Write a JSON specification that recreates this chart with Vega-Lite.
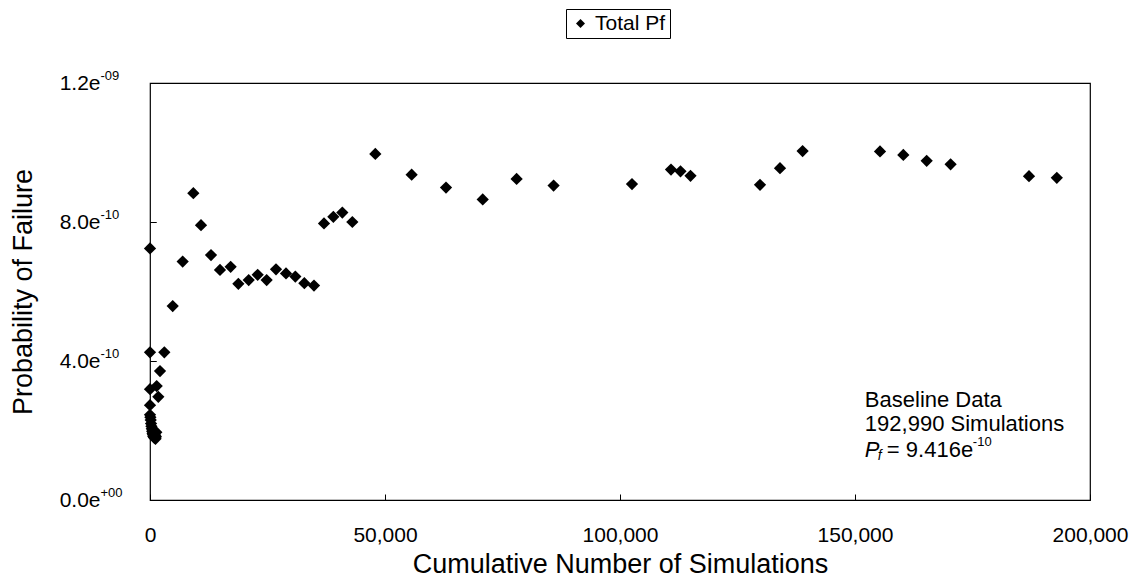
{
  "$schema": "https://vega.github.io/schema/vega-lite/v6.json",
  "width": 940,
  "height": 417,
  "autosize": "none",
  "padding": {"left": 150, "top": 83, "right": 45, "bottom": 88},
  "background": "white",
  "config": {
    "font": "Liberation Sans",
    "view": {"stroke": "black", "strokeWidth": 1.2},
    "axis": {"domain": false, "grid": false, "labelColor": "black", "titleColor": "black", "labelFont": "Liberation Sans", "titleFont": "Liberation Sans", "titleFontWeight": "normal", "tickColor": "black"}
  },
  "resolve": {"axis": {"y": "independent"}},
  "datasets": {
    "pts": [
      {"sims": 0, "pf": 7.24e-10, "series": "Total Pf"},
      {"sims": 0, "pf": 4.25e-10, "series": "Total Pf"},
      {"sims": 0, "pf": 3.19e-10, "series": "Total Pf"},
      {"sims": 0, "pf": 2.73e-10, "series": "Total Pf"},
      {"sims": 0, "pf": 2.45e-10, "series": "Total Pf"},
      {"sims": 80, "pf": 2.38e-10, "series": "Total Pf"},
      {"sims": 150, "pf": 2.3e-10, "series": "Total Pf"},
      {"sims": 220, "pf": 2.2e-10, "series": "Total Pf"},
      {"sims": 300, "pf": 2.12e-10, "series": "Total Pf"},
      {"sims": 380, "pf": 2.05e-10, "series": "Total Pf"},
      {"sims": 460, "pf": 1.98e-10, "series": "Total Pf"},
      {"sims": 540, "pf": 1.92e-10, "series": "Total Pf"},
      {"sims": 620, "pf": 1.88e-10, "series": "Total Pf"},
      {"sims": 700, "pf": 1.83e-10, "series": "Total Pf"},
      {"sims": 780, "pf": 1.95e-10, "series": "Total Pf"},
      {"sims": 860, "pf": 1.8e-10, "series": "Total Pf"},
      {"sims": 940, "pf": 1.9e-10, "series": "Total Pf"},
      {"sims": 1020, "pf": 1.78e-10, "series": "Total Pf"},
      {"sims": 1100, "pf": 1.86e-10, "series": "Total Pf"},
      {"sims": 1180, "pf": 1.76e-10, "series": "Total Pf"},
      {"sims": 1260, "pf": 1.82e-10, "series": "Total Pf"},
      {"sims": 1340, "pf": 1.95e-10, "series": "Total Pf"},
      {"sims": 1420, "pf": 3.28e-10, "series": "Total Pf"},
      {"sims": 1770, "pf": 2.97e-10, "series": "Total Pf"},
      {"sims": 2130, "pf": 3.71e-10, "series": "Total Pf"},
      {"sims": 3050, "pf": 4.25e-10, "series": "Total Pf"},
      {"sims": 4830, "pf": 5.58e-10, "series": "Total Pf"},
      {"sims": 6950, "pf": 6.86e-10, "series": "Total Pf"},
      {"sims": 9220, "pf": 8.83e-10, "series": "Total Pf"},
      {"sims": 10850, "pf": 7.91e-10, "series": "Total Pf"},
      {"sims": 12980, "pf": 7.05e-10, "series": "Total Pf"},
      {"sims": 14890, "pf": 6.62e-10, "series": "Total Pf"},
      {"sims": 17160, "pf": 6.71e-10, "series": "Total Pf"},
      {"sims": 18800, "pf": 6.22e-10, "series": "Total Pf"},
      {"sims": 21000, "pf": 6.33e-10, "series": "Total Pf"},
      {"sims": 22910, "pf": 6.48e-10, "series": "Total Pf"},
      {"sims": 24820, "pf": 6.33e-10, "series": "Total Pf"},
      {"sims": 26810, "pf": 6.64e-10, "series": "Total Pf"},
      {"sims": 28940, "pf": 6.52e-10, "series": "Total Pf"},
      {"sims": 30920, "pf": 6.43e-10, "series": "Total Pf"},
      {"sims": 32840, "pf": 6.24e-10, "series": "Total Pf"},
      {"sims": 34890, "pf": 6.17e-10, "series": "Total Pf"},
      {"sims": 37020, "pf": 7.96e-10, "series": "Total Pf"},
      {"sims": 39010, "pf": 8.15e-10, "series": "Total Pf"},
      {"sims": 40920, "pf": 8.27e-10, "series": "Total Pf"},
      {"sims": 43050, "pf": 8.0e-10, "series": "Total Pf"},
      {"sims": 47940, "pf": 9.96e-10, "series": "Total Pf"},
      {"sims": 55670, "pf": 9.36e-10, "series": "Total Pf"},
      {"sims": 62980, "pf": 8.99e-10, "series": "Total Pf"},
      {"sims": 70790, "pf": 8.65e-10, "series": "Total Pf"},
      {"sims": 78000, "pf": 9.24e-10, "series": "Total Pf"},
      {"sims": 85870, "pf": 9.05e-10, "series": "Total Pf"},
      {"sims": 102550, "pf": 9.09e-10, "series": "Total Pf"},
      {"sims": 110850, "pf": 9.51e-10, "series": "Total Pf"},
      {"sims": 112870, "pf": 9.46e-10, "series": "Total Pf"},
      {"sims": 115000, "pf": 9.33e-10, "series": "Total Pf"},
      {"sims": 129790, "pf": 9.07e-10, "series": "Total Pf"},
      {"sims": 134040, "pf": 9.55e-10, "series": "Total Pf"},
      {"sims": 138850, "pf": 1.004e-9, "series": "Total Pf"},
      {"sims": 155320, "pf": 1.003e-9, "series": "Total Pf"},
      {"sims": 160280, "pf": 9.93e-10, "series": "Total Pf"},
      {"sims": 165250, "pf": 9.76e-10, "series": "Total Pf"},
      {"sims": 170340, "pf": 9.66e-10, "series": "Total Pf"},
      {"sims": 187020, "pf": 9.32e-10, "series": "Total Pf"},
      {"sims": 192940, "pf": 9.27e-10, "series": "Total Pf"}
    ]
  },
  "layer": [
    {
      "data": {"name": "pts"},
      "mark": {"type": "point", "shape": "diamond", "filled": true, "size": 150, "opacity": 1},
      "encoding": {
        "x": {
          "field": "sims", "type": "quantitative",
          "scale": {"domain": [0, 200000], "nice": false, "zero": false},
          "axis": {
            "values": [0, 50000, 100000, 150000, 200000],
            "labelExpr": "format(datum.value, ',')",
            "title": "Cumulative Number of Simulations",
            "labelFontSize": 21, "titleFontSize": 27,
            "tickSize": -6, "labelPadding": 30, "titlePadding": 6,
            "labelFlush": false
          }
        },
        "y": {
          "field": "pf", "type": "quantitative",
          "scale": {"domain": [0, 1.2e-9], "nice": false},
          "axis": {
            "values": [0, 4e-10, 8e-10, 1.2e-9],
            "labelExpr": "datum.value == 0 ? '0.0e' : (datum.value > 1.1e-9 ? '1.2e' : (datum.value > 7e-10 ? '8.0e' : '4.0e'))",
            "title": "Probability of Failure",
            "labelFontSize": 21, "titleFontSize": 27,
            "tickSize": -6, "labelPadding": 56, "titlePadding": 22,
            "labelFlush": false, "labelBaseline": "middle"
          }
        },
        "color": {
          "field": "series", "type": "nominal",
          "scale": {"range": ["black"]},
          "legend": {
            "title": null, "orient": "none", "legendX": 416, "legendY": -74,
            "symbolType": "diamond", "symbolSize": 80, "symbolStrokeWidth": 0,
            "labelFontSize": 21, "labelFont": "Liberation Sans", "labelColor": "black",
            "strokeColor": "black", "padding": 4, "fillColor": "white"
          }
        }
      }
    },
    {
      "data": {"name": "pts"},
      "mark": {"type": "point", "opacity": 0},
      "encoding": {
        "y": {
          "field": "pf", "type": "quantitative",
          "scale": {"domain": [0, 1.2e-9], "nice": false},
          "axis": {
            "orient": "left",
            "values": [0, 4e-10, 8e-10, 1.2e-9],
            "labelExpr": "datum.value == 0 ? '+00' : (datum.value > 1.1e-9 ? '-09' : '-10')",
            "title": null,
            "labelFontSize": 13, "labelAlign": "left", "labelBaseline": "middle",
            "labelOffset": -8,
            "tickSize": -6, "labelPadding": 56,
            "labelFlush": false
          }
        }
      }
    },
    {
      "data": {"values": [{}]},
      "mark": {"type": "text", "align": "left", "baseline": "middle", "fontSize": 22, "font": "Liberation Sans", "color": "black", "lineHeight": 24, "text": ["Baseline Data", "192,990 Simulations"]},
      "encoding": {"x": {"datum": 152100, "type": "quantitative"}, "y": {"datum": 2.88e-10, "type": "quantitative", "axis": null}}
    },
    {
      "data": {"values": [{}]},
      "mark": {"type": "text", "align": "left", "baseline": "middle", "fontSize": 22, "fontStyle": "italic", "font": "Liberation Sans", "color": "black", "text": "P"},
      "encoding": {"x": {"datum": 152100, "type": "quantitative"}, "y": {"datum": 1.44e-10, "type": "quantitative", "axis": null}}
    },
    {
      "data": {"values": [{}]},
      "mark": {"type": "text", "align": "left", "baseline": "middle", "fontSize": 14, "fontStyle": "italic", "font": "Liberation Sans", "color": "black", "text": "f", "dx": 13, "dy": 6},
      "encoding": {"x": {"datum": 152100, "type": "quantitative"}, "y": {"datum": 1.44e-10, "type": "quantitative", "axis": null}}
    },
    {
      "data": {"values": [{}]},
      "mark": {"type": "text", "align": "left", "baseline": "middle", "fontSize": 22, "font": "Liberation Sans", "color": "black", "text": "= 9.416e", "dx": 22},
      "encoding": {"x": {"datum": 152100, "type": "quantitative"}, "y": {"datum": 1.44e-10, "type": "quantitative", "axis": null}}
    },
    {
      "data": {"values": [{}]},
      "mark": {"type": "text", "align": "left", "baseline": "middle", "fontSize": 13, "font": "Liberation Sans", "color": "black", "text": "-10", "dx": 108, "dy": -8},
      "encoding": {"x": {"datum": 152100, "type": "quantitative"}, "y": {"datum": 1.44e-10, "type": "quantitative", "axis": null}}
    }
  ]
}
